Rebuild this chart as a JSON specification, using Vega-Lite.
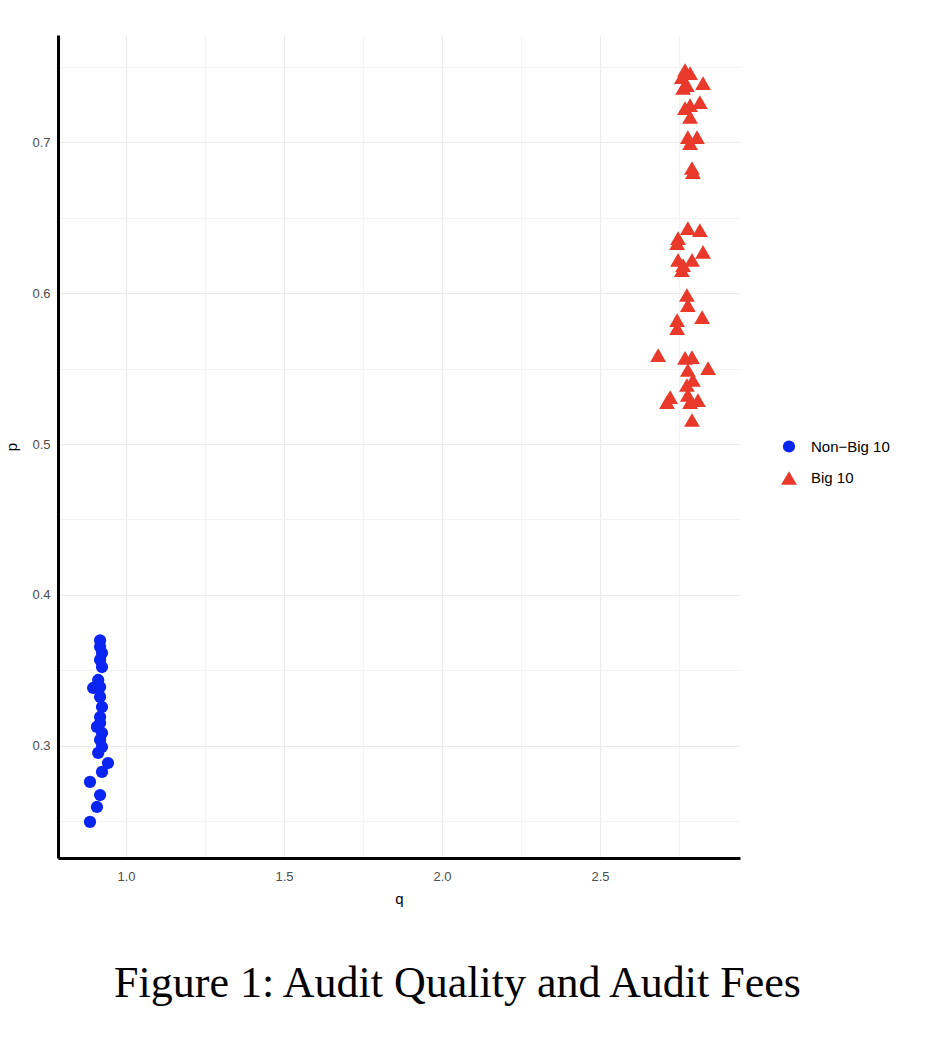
{
  "$schema": "https://vega.github.io/schema/vega-lite/v6.json",
  "autosize": "none",
  "width": 682,
  "height": 823,
  "padding": {"left": 58, "top": 35, "right": 188, "bottom": 182},
  "background": "white",
  "config": {
    "view": {"stroke": null},
    "font": "Liberation Sans"
  },
  "title": {
    "text": "Figure 1: Audit Quality and Audit Fees",
    "orient": "bottom",
    "anchor": "middle",
    "frame": "bounds",
    "font": "Liberation Serif",
    "fontSize": 44,
    "fontWeight": "normal",
    "color": "black",
    "offset": 56,
    "dx": 10
  },
  "data": {
    "values": [
      {"q": 0.918, "p": 0.370, "group": "Non−Big 10"},
      {"q": 0.918, "p": 0.3656, "group": "Non−Big 10"},
      {"q": 0.924, "p": 0.3616, "group": "Non−Big 10"},
      {"q": 0.918, "p": 0.357, "group": "Non−Big 10"},
      {"q": 0.924, "p": 0.3523, "group": "Non−Big 10"},
      {"q": 0.912, "p": 0.3437, "group": "Non−Big 10"},
      {"q": 0.896, "p": 0.3384, "group": "Non−Big 10"},
      {"q": 0.918, "p": 0.339, "group": "Non−Big 10"},
      {"q": 0.918, "p": 0.3325, "group": "Non−Big 10"},
      {"q": 0.924, "p": 0.3258, "group": "Non−Big 10"},
      {"q": 0.918, "p": 0.3192, "group": "Non−Big 10"},
      {"q": 0.908, "p": 0.3126, "group": "Non−Big 10"},
      {"q": 0.918, "p": 0.3152, "group": "Non−Big 10"},
      {"q": 0.924, "p": 0.3086, "group": "Non−Big 10"},
      {"q": 0.918, "p": 0.304, "group": "Non−Big 10"},
      {"q": 0.924, "p": 0.2993, "group": "Non−Big 10"},
      {"q": 0.912, "p": 0.2954, "group": "Non−Big 10"},
      {"q": 0.943, "p": 0.2887, "group": "Non−Big 10"},
      {"q": 0.924, "p": 0.2828, "group": "Non−Big 10"},
      {"q": 0.886, "p": 0.2762, "group": "Non−Big 10"},
      {"q": 0.918, "p": 0.2675, "group": "Non−Big 10"},
      {"q": 0.908, "p": 0.2596, "group": "Non−Big 10"},
      {"q": 0.886, "p": 0.2497, "group": "Non−Big 10"},
      {"q": 2.769, "p": 0.7477, "group": "Big 10"},
      {"q": 2.785, "p": 0.7457, "group": "Big 10"},
      {"q": 2.759, "p": 0.743, "group": "Big 10"},
      {"q": 2.826, "p": 0.739, "group": "Big 10"},
      {"q": 2.775, "p": 0.7377, "group": "Big 10"},
      {"q": 2.763, "p": 0.7358, "group": "Big 10"},
      {"q": 2.816, "p": 0.7265, "group": "Big 10"},
      {"q": 2.785, "p": 0.7245, "group": "Big 10"},
      {"q": 2.769, "p": 0.7225, "group": "Big 10"},
      {"q": 2.785, "p": 0.7166, "group": "Big 10"},
      {"q": 2.778, "p": 0.7033, "group": "Big 10"},
      {"q": 2.807, "p": 0.7033, "group": "Big 10"},
      {"q": 2.785, "p": 0.6993, "group": "Big 10"},
      {"q": 2.791, "p": 0.6828, "group": "Big 10"},
      {"q": 2.794, "p": 0.6801, "group": "Big 10"},
      {"q": 2.778, "p": 0.643, "group": "Big 10"},
      {"q": 2.816, "p": 0.6417, "group": "Big 10"},
      {"q": 2.747, "p": 0.6364, "group": "Big 10"},
      {"q": 2.744, "p": 0.6331, "group": "Big 10"},
      {"q": 2.826, "p": 0.6272, "group": "Big 10"},
      {"q": 2.747, "p": 0.6219, "group": "Big 10"},
      {"q": 2.791, "p": 0.6219, "group": "Big 10"},
      {"q": 2.763, "p": 0.6185, "group": "Big 10"},
      {"q": 2.759, "p": 0.6152, "group": "Big 10"},
      {"q": 2.775, "p": 0.5987, "group": "Big 10"},
      {"q": 2.778, "p": 0.592, "group": "Big 10"},
      {"q": 2.823, "p": 0.5841, "group": "Big 10"},
      {"q": 2.744, "p": 0.5821, "group": "Big 10"},
      {"q": 2.744, "p": 0.5768, "group": "Big 10"},
      {"q": 2.684, "p": 0.5589, "group": "Big 10"},
      {"q": 2.769, "p": 0.5570, "group": "Big 10"},
      {"q": 2.791, "p": 0.5576, "group": "Big 10"},
      {"q": 2.842, "p": 0.5503, "group": "Big 10"},
      {"q": 2.778, "p": 0.549, "group": "Big 10"},
      {"q": 2.794, "p": 0.5424, "group": "Big 10"},
      {"q": 2.775, "p": 0.5391, "group": "Big 10"},
      {"q": 2.722, "p": 0.5311, "group": "Big 10"},
      {"q": 2.712, "p": 0.5278, "group": "Big 10"},
      {"q": 2.778, "p": 0.5325, "group": "Big 10"},
      {"q": 2.810, "p": 0.5291, "group": "Big 10"},
      {"q": 2.785, "p": 0.5278, "group": "Big 10"},
      {"q": 2.791, "p": 0.5159, "group": "Big 10"}
    ]
  },
  "mark": {"type": "point", "filled": true, "opacity": 1},
  "encoding": {
    "x": {
      "field": "q",
      "type": "quantitative",
      "title": "q",
      "scale": {"domain": [0.7848, 2.943], "nice": false, "zero": false},
      "axis": {
        "values": [1.0, 1.25, 1.5, 1.75, 2.0, 2.25, 2.5, 2.75],
        "labelExpr": "datum.value * 4 % 2 == 0 ? format(datum.value, '.1f') : ''",
        "grid": true,
        "gridColor": {"expr": "datum.value * 4 % 2 == 0 ? '#EBEBEB' : '#F3F3F3'"},
        "gridWidth": 1.2,
        "domainColor": "black",
        "domainWidth": 3,
        "ticks": false,
        "labelPadding": 12,
        "labelFontSize": 13,
        "labelColor": "#4D4D4D",
        "titleFontSize": 15,
        "titleFontWeight": "normal",
        "titleColor": "black",
        "titlePadding": 8
      }
    },
    "y": {
      "field": "p",
      "type": "quantitative",
      "title": "p",
      "scale": {"domain": [0.2258, 0.7709], "nice": false, "zero": false},
      "axis": {
        "values": [0.25, 0.3, 0.35, 0.4, 0.45, 0.5, 0.55, 0.6, 0.65, 0.7, 0.75],
        "labelExpr": "round(datum.value * 100) % 10 == 0 ? format(datum.value, '.1f') : ''",
        "grid": true,
        "gridColor": {"expr": "round(datum.value * 100) % 10 == 0 ? '#EBEBEB' : '#F3F3F3'"},
        "gridWidth": 1.2,
        "domainColor": "black",
        "domainWidth": 3,
        "ticks": false,
        "labelPadding": 8,
        "labelFontSize": 13,
        "labelColor": "#4D4D4D",
        "titleFontSize": 15,
        "titleFontWeight": "normal",
        "titleColor": "black",
        "titlePadding": 12
      }
    },
    "color": {
      "field": "group",
      "type": "nominal",
      "scale": {"domain": ["Non−Big 10", "Big 10"], "range": ["#0A24F2", "#E8392B"]},
      "legend": {
        "title": null,
        "orient": "none",
        "legendX": 722,
        "legendY": 404,
        "labelFontSize": 15,
        "labelColor": "black",
        "symbolOpacity": 1,
        "rowPadding": 12,
        "labelOffset": 13
      }
    },
    "shape": {
      "field": "group",
      "type": "nominal",
      "scale": {"domain": ["Non−Big 10", "Big 10"], "range": ["circle", "triangle-up"]}
    },
    "size": {
      "field": "group",
      "type": "nominal",
      "scale": {"domain": ["Non−Big 10", "Big 10"], "range": [150, 250]}
    }
  }
}
